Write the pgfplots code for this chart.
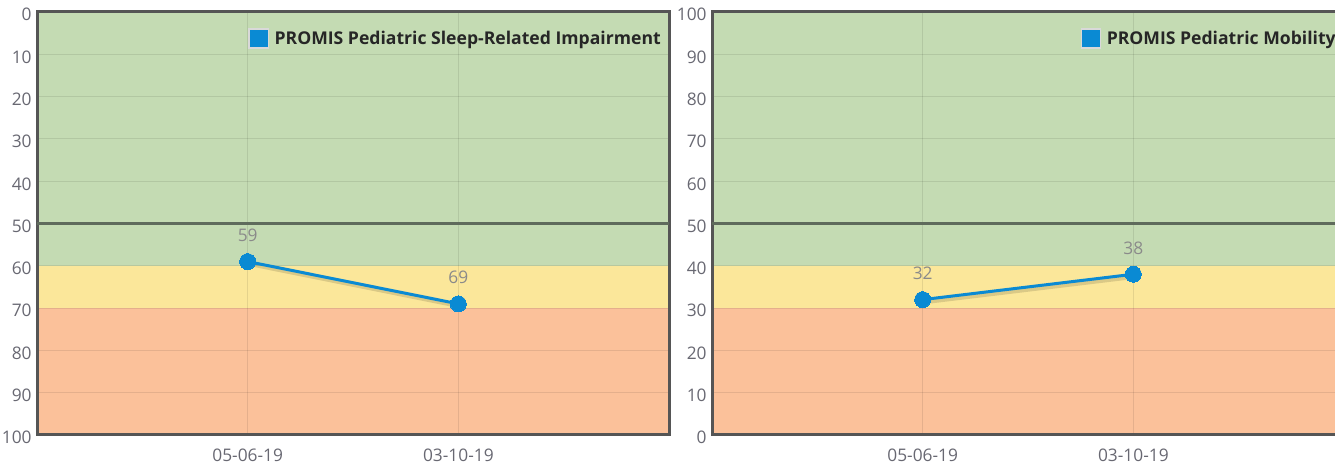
\documentclass[border=0pt]{standalone}
\usepackage{pgfplots}
\pgfplotsset{compat=1.18}
\usepackage{fontspec}
\setmainfont{Open Sans}
\definecolor{bandgreen}{HTML}{C4DBB3}
\definecolor{bandyellow}{HTML}{FBE79A}
\definecolor{bandorange}{HTML}{FBC19A}
\definecolor{framecol}{HTML}{555555}
\definecolor{midline}{HTML}{5F6B5C}
\definecolor{promisblue}{HTML}{0A8AD3}
\definecolor{ticktext}{HTML}{686872}
\definecolor{labeltext}{HTML}{8A8A8A}

\pgfplotsset{
  promis/.style={
    set layers,
    scale only axis,
    width=474pt, height=317.25pt,
    xmin=-1, xmax=2, ymin=0, ymax=100,
    xtick={0,1}, xticklabels={05-06-19,03-10-19},
    ytick={0,10,...,100},
    xmajorgrids, ymajorgrids,
    grid style={black, opacity=0.09, line width=0.75pt},
    major tick length=0pt,
    axis line style={framecol, line width=2.25pt},
    tick label style={font=\fontsize{13}{15}\selectfont, text=ticktext},
    /pgf/number format/assume math mode=true,
    yticklabel style={xshift=-0.5pt, yshift=-2pt},
    xticklabel style={yshift=-7pt},
    legend style={at={(1,1)}, anchor=north east, xshift=-1pt, yshift=-10pt,
      draw=none, fill=none, font=\fontsize{13.2}{15}\selectfont\bfseries,
      text=black!85},
    legend cell align=left,
    legend image code/.code={\draw[fill=promisblue, draw=black!15, line width=1.2pt] (0pt,-7.2pt) rectangle (14.4pt,7.2pt); \path[draw=none, fill=none] (0pt,0pt) -- (17pt,0pt);},
  },
  dataline/.style={promisblue, line width=2.25pt, mark=*, mark size=6pt,
    mark options={fill=promisblue, draw=promisblue, line width=0pt},
    nodes near coords,
    every node near coord/.append style={anchor=south, yshift=11.5pt,
      font=\fontsize{13}{15}\selectfont, text=labeltext},
  },
  shadowline/.style={forget plot, black, opacity=0.13, line width=3pt},
  band/.style={forget plot, draw=none, on layer=axis background},
}

\begin{document}
\begin{tikzpicture}
% Left panel: Sleep-Related Impairment (reversed scale)
\begin{axis}[promis, y dir=reverse, at={(27.75pt,23.25pt)}, anchor=south west]
  \addplot[band, fill=bandgreen]  coordinates {(-1,0) (2,0) (2,60) (-1,60) (-1,0)};
  \addplot[band, fill=bandyellow] coordinates {(-1,60) (2,60) (2,70) (-1,70) (-1,60)};
  \addplot[band, fill=bandorange] coordinates {(-1,70) (2,70) (2,100) (-1,100) (-1,70)};
  \addplot[forget plot, midline, line width=2pt] coordinates {(-1,50) (2,50)};
  \addplot[shadowline] coordinates {(0.01,59.6) (1.01,69.6)};
  \addplot[dataline] coordinates {(0,59) (1,69)};
  \addlegendentry{PROMIS Pediatric Sleep-Related Impairment}
\end{axis}

% Right panel: Mobility
\begin{axis}[promis, at={(534pt,23.25pt)}, anchor=south west]
  \addplot[band, fill=bandgreen]  coordinates {(-1,40) (2,40) (2,100) (-1,100) (-1,40)};
  \addplot[band, fill=bandyellow] coordinates {(-1,30) (2,30) (2,40) (-1,40) (-1,30)};
  \addplot[band, fill=bandorange] coordinates {(-1,0) (2,0) (2,30) (-1,30) (-1,0)};
  \addplot[forget plot, midline, line width=2pt] coordinates {(-1,50) (2,50)};
  \addplot[shadowline] coordinates {(0.01,31.4) (1.01,37.4)};
  \addplot[dataline] coordinates {(0,32) (1,38)};
  \addlegendentry{PROMIS Pediatric Mobility}
\end{axis}
\pgfresetboundingbox
\path[use as bounding box] (0,0) rectangle (1001.25pt,349.5pt);
\end{tikzpicture}
\end{document}
